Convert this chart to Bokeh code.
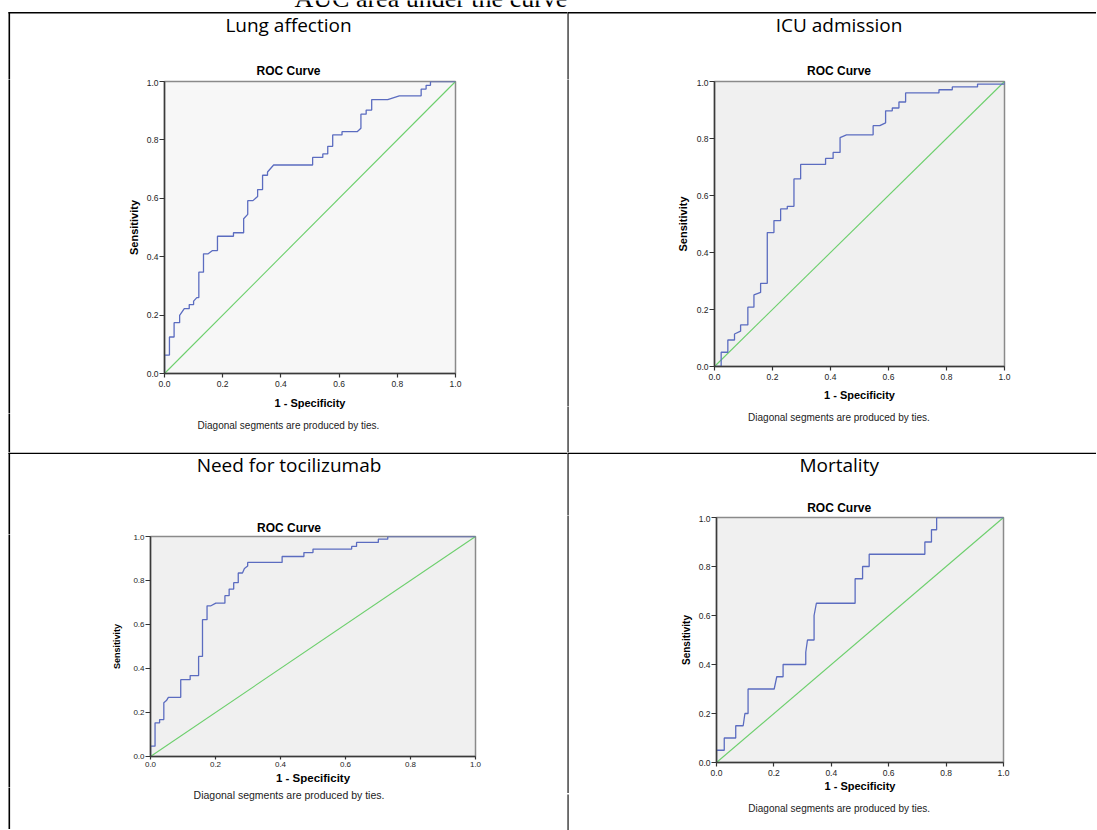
from bokeh.plotting import figure
from bokeh.layouts import row, column
from bokeh.models import Range1d, FixedTicker
from bokeh.core.properties import value
from bokeh.embed import file_html
from bokeh.resources import INLINE

# ---------------- data ----------------
page_heading = "AUC area under the curve"
cell_titles = ["Lung affection", "ICU admission", "Need for tocilizumab", "Mortality"]
chart_title = "ROC Curve"
x_axis_title = "1 - Specificity"
y_axis_title = "Sensitivity"
footnote = "Diagonal segments are produced by ties."
tick_values = [0.0, 0.2, 0.4, 0.6, 0.8, 1.0]
tick_labels = ["0.0", "0.2", "0.4", "0.6", "0.8", "1.0"]
reference_x = [0.0, 1.0]
reference_y = [0.0, 1.0]

lung_fpr = [0, 0, .017, .017, .033, .033, .052, .052, .068, .085, .085, .100, .100, .111, .118, .118,
            .134, .134, .150, .165, .182, .182, .237, .237, .272, .272, .286, .286, .304, .320, .320,
            .337, .337, .354, .354, .375, .509, .509, .544, .544, .561, .561, .578, .578, .610, .610,
            .662, .675, .675, .693, .693, .712, .712, .767, .807, .882, .882, .899, .899, .914, .914, 1.0]
lung_tpr = [0, .063, .063, .125, .125, .174, .174, .199, .222, .222, .236, .236, .248, .260, .260, .347,
            .347, .410, .410, .421, .421, .470, .470, .482, .482, .530, .545, .592, .592, .606, .630,
            .630, .679, .679, .690, .714, .714, .740, .740, .752, .752, .778, .778, .817, .817, .828,
            .828, .840, .888, .888, .902, .902, .938, .938, .951, .951, .974, .974, .987, .987, 1.0, 1.0]

icu_fpr = [0, .023, .023, .046, .046, .069, .069, .090, .090, .115, .115, .136, .136, .159, .159, .182,
           .182, .205, .205, .228, .228, .251, .251, .274, .274, .297, .297, .383, .383, .409, .409,
           .433, .433, .455, .547, .547, .570, .590, .590, .613, .613, .636, .636, .659, .659, .774,
           .774, .820, .820, .907, .907, 1.0, 1.0]
icu_tpr = [0, 0, .050, .050, .093, .093, .114, .124, .146, .146, .208, .208, .251, .260, .292, .292,
           .470, .470, .512, .512, .553, .553, .562, .562, .658, .658, .709, .709, .730, .730, .751,
           .751, .803, .813, .813, .845, .845, .855, .897, .897, .907, .907, .928, .928, .960, .960,
           .971, .971, .981, .981, .991, .991, 1.0]

toci_fpr = [0, 0, .014, .014, .028, .028, .041, .041, .049, .055, .093, .093, .122, .122, .148, .148,
            .160, .160, .174, .174, .186, .201, .229, .229, .242, .242, .256, .256, .270, .270, .283,
            .289, .299, .299, .405, .405, .472, .472, .500, .500, .619, .619, .634, .634, .701, .701,
            .730, .730, 1.0]
toci_tpr = [0, .047, .047, .153, .153, .168, .168, .244, .254, .269, .269, .349, .349, .368, .368, .455,
            .455, .622, .622, .685, .685, .697, .697, .731, .731, .761, .761, .790, .790, .834, .834,
            .855, .866, .882, .882, .909, .909, .927, .927, .943, .943, .955, .955, .973, .973, .988,
            .988, 1.0, 1.0]

mort_fpr = [0, 0, .027, .027, .067, .067, .093, .099, .110, .110, .201, .210, .232, .232, .311, .311,
            .317, .340, .340, .348, .483, .483, .509, .509, .532, .532, .726, .726, .749, .749, .767,
            .767, 1.0]
mort_tpr = [0, .05, .05, .10, .10, .15, .15, .20, .20, .30, .30, .35, .35, .40, .40, .45,
            .50, .50, .60, .65, .65, .75, .75, .80, .80, .85, .85, .90, .90, .95, .95,
            1.0, 1.0]

series = [(lung_fpr, lung_tpr), (icu_fpr, icu_tpr), (toci_fpr, toci_tpr), (mort_fpr, mort_tpr)]

# ---------------- layout / style (page pixels) ----------------
# x0,y0,W,H: cell box; fl,ft,fw,fh: ROC frame; lw: width of the left strip; below: axis area height
CELLS = [
    dict(x0=0, y0=0, W=567, H=452, fl=164, ft=81, fw=291, fh=292, lw=98, below=40,
         bg="#F7F7F7", cx=288, title_y=30.7, roc_y=75, foot_y=428, tick_font="8.5px",
         xt_out=4, xl_so=3, xal_so=7, xal_size="11px", yt_out=5, yl_so=1, yal_so=4, yal_size="11px",
         foot_size="10px", vx=8, hx=8, rule_y=11.5),
    dict(x0=567, y0=0, W=529, H=452, fl=714, ft=81, fw=290, fh=285, lw=90, below=40,
         bg="#F0F0F0", cx=838.5, title_y=30.7, roc_y=75, foot_y=420.5, tick_font="8.5px",
         xt_out=4, xl_so=3, xal_so=6, xal_size="11px", yt_out=5, yl_so=1, yal_so=5, yal_size="11px",
         foot_size="10px", vx=566.5, hx=567, rule_y=11.5),
    dict(x0=0, y0=452, W=567, H=377, fl=150, ft=536, fw=325, fh=220, lw=98, below=31,
         bg="#F0F0F0", cx=288.5, title_y=470.7, roc_y=531.5, foot_y=798, tick_font="8px",
         xt_out=3, xl_so=2, xal_so=2, xal_size="11.5px", yt_out=5, yl_so=1, yal_so=8, yal_size="9px",
         foot_size="10.5px", vx=8, hx=8, rule_y=452),
    dict(x0=567, y0=452, W=529, H=377, fl=716, ft=517, fw=287, fh=245, lw=90, below=31,
         bg="#F0F0F0", cx=838.7, title_y=470.7, roc_y=512, foot_y=810, tick_font="8.5px",
         xt_out=4, xl_so=3, xal_so=1, xal_size="11px", yt_out=5, yl_so=1, yal_so=4, yal_size="10px",
         foot_size="10px", vx=566.5, hx=567, rule_y=452),
]

BLUE = "#5B6CC0"
GREEN = "#6CCF6C"
RULE_W = 1.6
SANS = "Liberation Sans"
BASELINE_SHIFT = 0.35   # text glyphs sit this many font-sizes below the given y


def no_align(p):
    try:
        p.frame_align = False
    except AttributeError:
        pass


def text_fig(x0, y0, w, h):
    p = figure(width=w, height=h, x_range=Range1d(x0, x0 + w), y_range=Range1d(y0 + h, y0),
               min_border=0, x_axis_type=None, y_axis_type=None,
               output_backend="svg", toolbar_location=None,
               outline_line_color=None, background_fill_color="white",
               border_fill_color="white")
    p.grid.visible = False
    no_align(p)
    return p


def rule(p, x0, x1, y0, y1):
    p.quad(left=[x0], right=[x1], top=[y0], bottom=[y1], fill_color="black", line_color=None)


def label(p, txt, x, baseline, size_px, font=SANS, style="normal", color="black", align="center"):
    y = baseline - BASELINE_SHIFT * size_px
    p.text(x=[x], y=[y], text=[txt], text_font=value(font), text_font_size=value(f"{size_px}px"),
           text_font_style=value(style), text_color=value(color),
           text_align=value(align), text_baseline=value("alphabetic"))


cells = []
for i, c in enumerate(CELLS):
    x0, y0, W, H = c["x0"], c["y0"], c["W"], c["H"]
    top_h = c["ft"] - 2 - y0
    mid_h = 2 + c["fh"] + c["below"]
    bot_h = H - top_h - mid_h
    vx = c["vx"]

    # --- strip above the chart: cell title, chart title, table rules
    t = text_fig(x0, y0, W, top_h)
    rule(t, c["hx"], x0 + W + 1, c["rule_y"], c["rule_y"] + RULE_W)
    rule(t, vx, vx + RULE_W, c["rule_y"], y0 + top_h + 1)
    label(t, cell_titles[i], c["cx"], c["title_y"], 19, font="Open Sans")
    label(t, chart_title, c["cx"], c["roc_y"], 12, style="bold")
    if i == 0:
        label(t, page_heading, 294, 7.5, 26, font="Liberation Serif", align="left")

    # --- narrow strip left of the chart (table rule only)
    lft = text_fig(x0, y0 + top_h, c["lw"], mid_h)
    rule(lft, vx, vx + RULE_W, y0 + top_h - 1, y0 + top_h + mid_h + 1)

    # --- the ROC chart
    rx0 = x0 + c["lw"]
    rw = W - c["lw"]
    ml = c["fl"] - rx0
    mr = rw - ml - c["fw"]
    p = figure(frame_width=c["fw"], frame_height=c["fh"],
               min_border_left=ml, min_border_right=mr,
               min_border_top=2, min_border_bottom=c["below"],
               x_range=Range1d(0, 1), y_range=Range1d(0, 1),
               output_backend="svg", toolbar_location=None,
               background_fill_color=c["bg"], border_fill_color="white",
               outline_line_color="#8a8a8a", outline_line_width=1.5)
    no_align(p)
    p.grid.visible = False
    for ax, t_out, l_so, al_so, al_size, lab in (
            (p.xaxis[0], c["xt_out"], c["xl_so"], c["xal_so"], c["xal_size"], x_axis_title),
            (p.yaxis[0], c["yt_out"], c["yl_so"], c["yal_so"], c["yal_size"], y_axis_title)):
        ax.ticker = FixedTicker(ticks=tick_values)
        ax.major_label_overrides = dict(zip(tick_values, tick_labels))
        ax.minor_tick_line_color = None
        ax.major_tick_in = 0
        ax.major_tick_out = t_out
        ax.major_tick_line_color = "#333333"
        ax.major_tick_line_width = 1.2
        ax.axis_line_color = "#3a3a3a"
        ax.axis_line_width = 1.5
        ax.major_label_standoff = l_so
        ax.major_label_text_font = SANS
        ax.major_label_text_font_size = c["tick_font"]
        ax.major_label_text_color = "#1e1e1e"
        ax.axis_label = lab
        ax.axis_label_standoff = al_so
        ax.axis_label_text_font = SANS
        ax.axis_label_text_font_size = al_size
        ax.axis_label_text_font_style = "bold"
        ax.axis_label_text_color = "black"
    p.line(reference_x, reference_y, line_color=GREEN, line_width=1.1)
    fx, fy = series[i]
    p.line(fx, fy, line_color=BLUE, line_width=1.3)

    # --- strip below the chart: footnote, table rule
    b = text_fig(x0, y0 + top_h + mid_h, W, bot_h)
    rule(b, vx, vx + RULE_W, y0 + top_h + mid_h - 1, y0 + H + 1)
    label(b, footnote, c["cx"], c["foot_y"], float(c["foot_size"][:-2]), color="#222222")

    cells.append(column(t, row(lft, p), b))

layout = column(row(cells[0], cells[1]), row(cells[2], cells[3]))

open("out.html", "w").write(file_html(layout, INLINE))
